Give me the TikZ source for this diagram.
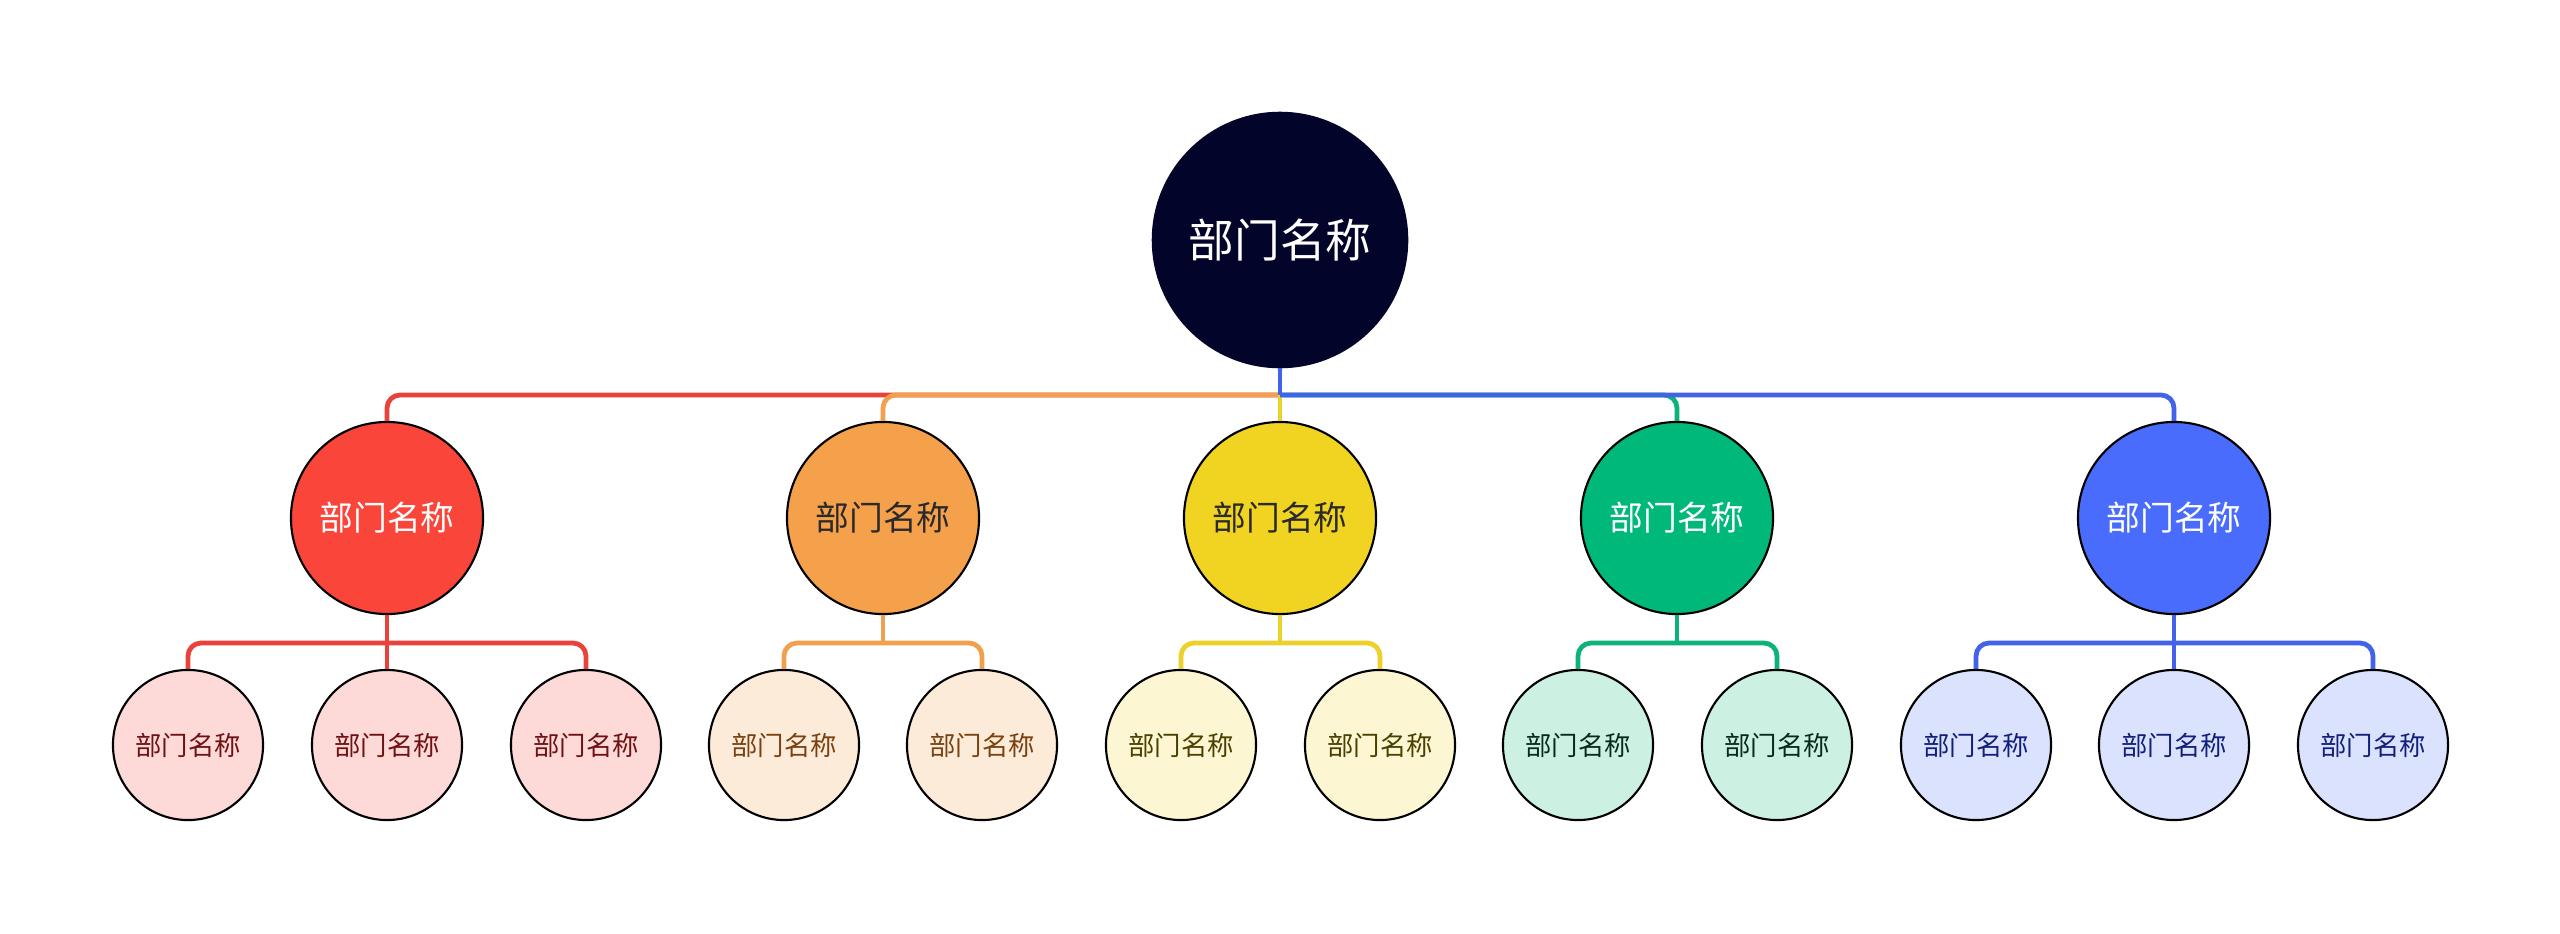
\documentclass[tikz,border=0pt]{standalone}
\usepackage{fontspec}
\newfontfamily\cjk{Noto Sans CJK SC}
\definecolor{rootfill}{HTML}{02042A}
\definecolor{cRed}{HTML}{F9453A}
\definecolor{cOrange}{HTML}{F5A04B}
\definecolor{cYellow}{HTML}{F1D421}
\definecolor{cGreen}{HTML}{00B87A}
\definecolor{cBlue}{HTML}{4A6CFC}
\definecolor{lRed}{HTML}{E8423A}
\definecolor{lOrange}{HTML}{F0A04E}
\definecolor{lYellow}{HTML}{EDD12A}
\definecolor{lGreen}{HTML}{0DB27A}
\definecolor{lBlue}{HTML}{4262EA}
\definecolor{pRed}{HTML}{FDD9D8}
\definecolor{pOrange}{HTML}{FDEBD9}
\definecolor{pYellow}{HTML}{FCF6D2}
\definecolor{pGreen}{HTML}{CCF1E3}
\definecolor{pBlue}{HTML}{DBE2FE}
\definecolor{tRed}{HTML}{6E1212}
\definecolor{tOrange}{HTML}{7A4210}
\definecolor{tYellow}{HTML}{4A4000}
\definecolor{tGreen}{HTML}{0A2A1E}
\definecolor{tBlue}{HTML}{12207A}
\definecolor{tDark}{HTML}{2A2A2A}
\tikzset{
  rootnode/.style={circle,inner sep=0pt,minimum size=2.55cm,fill=rootfill,draw=rootfill,text=white,font=\cjk\fontsize{13}{15}\selectfont},
  midnode/.style={circle,inner sep=0pt,minimum size=1.92cm,draw=black,line width=0.6pt,font=\cjk\fontsize{9.6}{11}\selectfont},
  leafnode/.style={circle,inner sep=0pt,minimum size=1.50cm,draw=black,line width=0.6pt,font=\cjk\fontsize{7.5}{9}\selectfont},
  edge/.style={line width=1.35pt,rounded corners=0.13cm},
}
\begin{document}
\begin{tikzpicture}[x=0.01cm,y=-0.01cm]
\useasboundingbox[fill=white] (0,0) rectangle (2560,933);
% root
\node[rootnode] (root) at (1280,240) {部门名称};
% level 2
\node[midnode,fill=cRed,text=white] (a) at (387,518) {部门名称};
\node[midnode,fill=cOrange,text=tDark] (b) at (883,518) {部门名称};
\node[midnode,fill=cYellow,text=tDark] (c) at (1280,518) {部门名称};
\node[midnode,fill=cGreen,text=white] (d) at (1677,518) {部门名称};
\node[midnode,fill=cBlue,text=white] (e) at (2174,518) {部门名称};
% level 3
\node[leafnode,fill=pRed,text=tRed] (a1) at (188,745) {部门名称};
\node[leafnode,fill=pRed,text=tRed] (a2) at (387,745) {部门名称};
\node[leafnode,fill=pRed,text=tRed] (a3) at (586,745) {部门名称};
\node[leafnode,fill=pOrange,text=tOrange] (b1) at (784,745) {部门名称};
\node[leafnode,fill=pOrange,text=tOrange] (b2) at (982,745) {部门名称};
\node[leafnode,fill=pYellow,text=tYellow] (c1) at (1181,745) {部门名称};
\node[leafnode,fill=pYellow,text=tYellow] (c2) at (1380,745) {部门名称};
\node[leafnode,fill=pGreen,text=tGreen] (d1) at (1578,745) {部门名称};
\node[leafnode,fill=pGreen,text=tGreen] (d2) at (1777,745) {部门名称};
\node[leafnode,fill=pBlue,text=tBlue] (e1) at (1976,745) {部门名称};
\node[leafnode,fill=pBlue,text=tBlue] (e2) at (2174,745) {部门名称};
\node[leafnode,fill=pBlue,text=tBlue] (e3) at (2373,745) {部门名称};
% junction coordinates
\coordinate (bus) at (0,395);
\coordinate (bus2) at (0,643);
\coordinate (J) at (root.south |- bus);
\coordinate (Ja) at (a.south |- bus2);
\coordinate (Jb) at (b.south |- bus2);
\coordinate (Jc) at (c.south |- bus2);
\coordinate (Jd) at (d.south |- bus2);
\coordinate (Je) at (e.south |- bus2);
% level 1 -> 2 edges
\draw[edge,lRed] (J) -- (a.north |- bus) -- (a.north);
\draw[edge,lOrange] (J) -- (b.north |- bus) -- (b.north);
\draw[edge,lGreen] (J) -- (d.north |- bus) -- (d.north);
\draw[edge,lYellow] (J) -- (c.north);
\draw[edge,lBlue] (J) -- (e.north |- bus) -- (e.north);
\draw[edge,lBlue] (root.south) -- (J);
% level 2 -> 3 edges
\draw[edge,lRed] (Ja) -- (a1.north |- bus2) -- (a1.north);
\draw[edge,lRed] (Ja) -- (a3.north |- bus2) -- (a3.north);
\draw[edge,lRed] (a.south) -- (a2.north);
\draw[edge,lOrange] (Jb) -- (b1.north |- bus2) -- (b1.north);
\draw[edge,lOrange] (Jb) -- (b2.north |- bus2) -- (b2.north);
\draw[edge,lOrange] (b.south) -- (Jb);
\draw[edge,lYellow] (Jc) -- (c1.north |- bus2) -- (c1.north);
\draw[edge,lYellow] (Jc) -- (c2.north |- bus2) -- (c2.north);
\draw[edge,lYellow] (c.south) -- (Jc);
\draw[edge,lGreen] (Jd) -- (d1.north |- bus2) -- (d1.north);
\draw[edge,lGreen] (Jd) -- (d2.north |- bus2) -- (d2.north);
\draw[edge,lGreen] (d.south) -- (Jd);
\draw[edge,lBlue] (Je) -- (e1.north |- bus2) -- (e1.north);
\draw[edge,lBlue] (Je) -- (e3.north |- bus2) -- (e3.north);
\draw[edge,lBlue] (e.south) -- (e2.north);
\end{tikzpicture}
\end{document}
